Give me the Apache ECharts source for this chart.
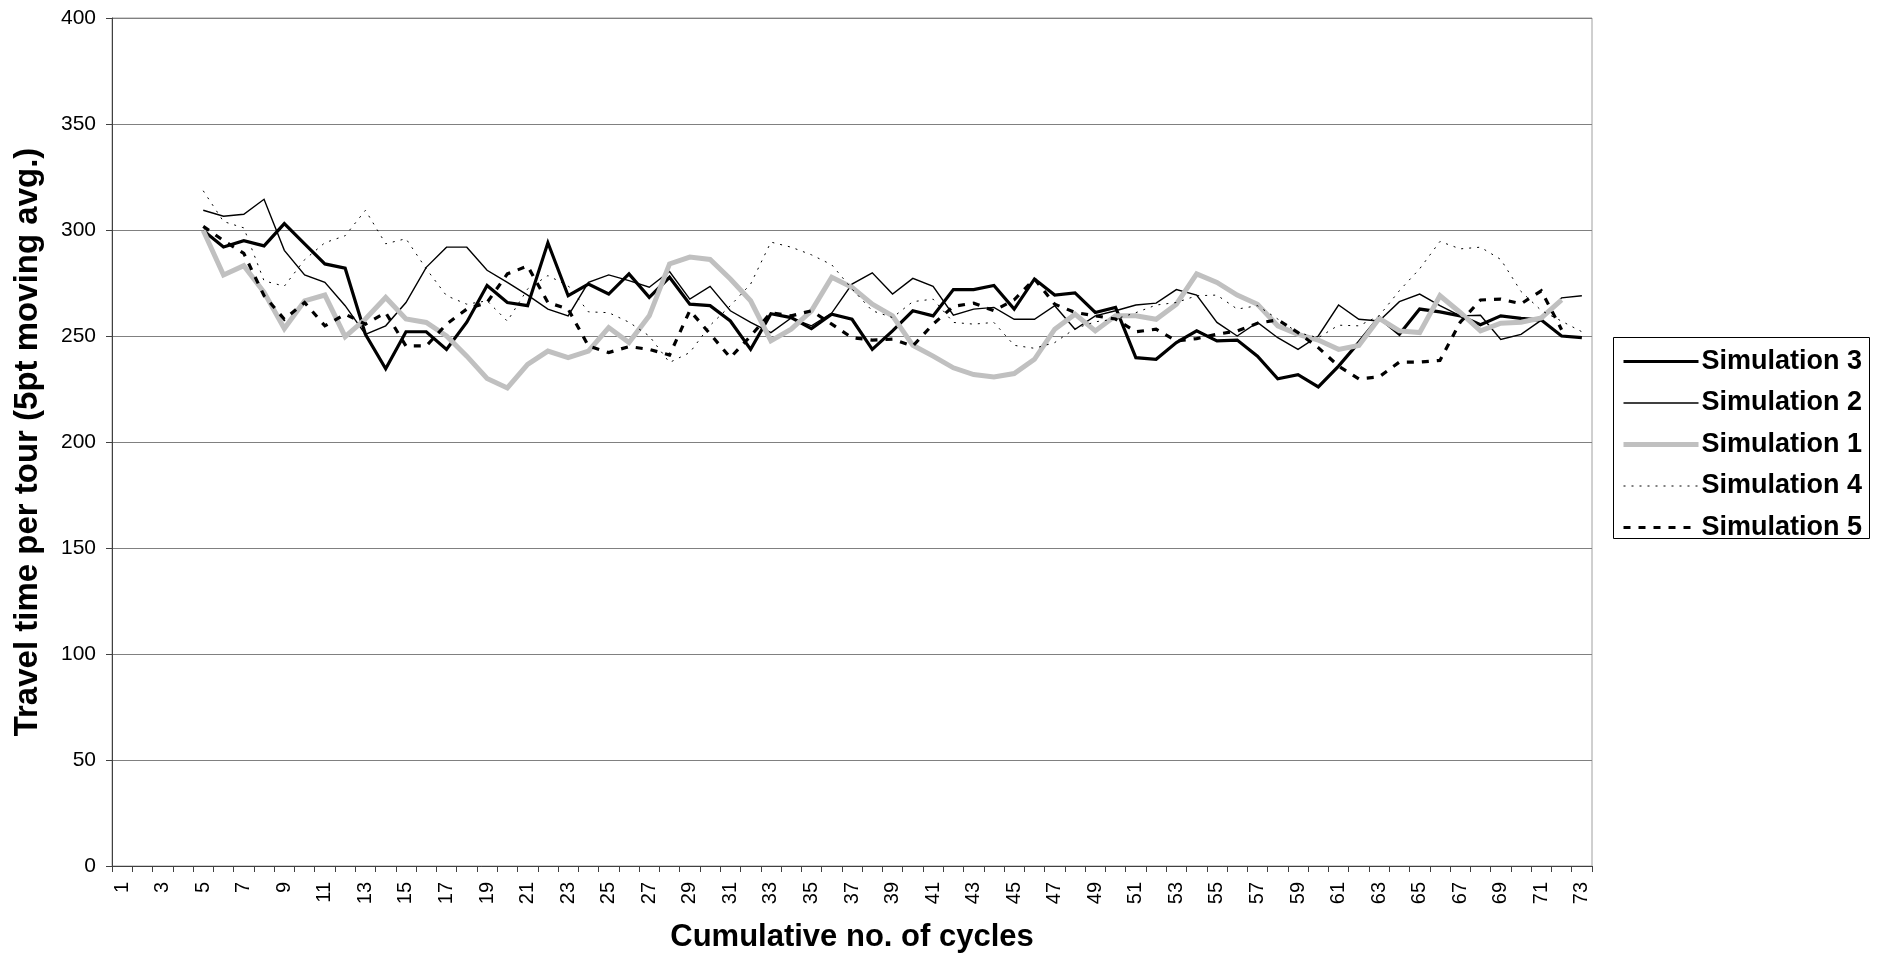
<!DOCTYPE html>
<html>
<head>
<meta charset="utf-8">
<title>Travel time per tour</title>
<script src="https://cdn.jsdelivr.net/npm/echarts@6/dist/echarts.min.js"></script>
<style>
  html, body { margin: 0; padding: 0; background: #ffffff; }
  #chart { width: 1881px; height: 959px; }
</style>
</head>
<body>
<div id="chart"></div>
<script>
// Cycle numbers 1..73 on the category axis
const cycles = [];
for (let c = 1; c <= 73; c++) cycles.push(String(c));

// 5-point moving averages start at cycle 5 (first four cycles are empty)
const sim3 = [null, null, null, null,
  299.8, 292, 295, 292.5, 303, 293.5, 284, 282, 250.8, 234.5,
  252, 252, 243.7, 256.5, 273.8, 265.8, 264.3, 294, 269, 274.5,
  269.8, 279.3, 268.2, 277.7, 265, 264.3, 257.1, 243.7, 260.5, 258.7,
  253.5, 260.3, 257.9, 243.7, 252.4, 261.9, 259.5, 271.9, 271.9, 273.8,
  262.7, 276.9, 269.3, 270.3, 261.1, 263.5, 239.8, 239, 246.9, 252.4,
  247.7, 248.1, 240.5, 229.8, 231.8, 226, 235.8, 247, 258.7, 250.8,
  262.7, 261.4, 259.5, 255.3, 259.5, 258.3, 257.5, 250, 249.2];

const sim2 = [null, null, null, null,
  309.3, 306.5, 307.4, 314.5, 290.4, 278.8, 275.3, 264.3, 250.8, 254.8,
  265.8, 282.4, 291.9, 291.9, 281, 275.3, 269.3, 262.7, 259.5, 275.3,
  278.8, 276.1, 273, 280.4, 267.4, 273.4, 261.9, 256.4, 251.6, 258.5,
  254.8, 260.8, 274.5, 279.8, 269.8, 277.2, 273.4, 259.8, 262.7, 263.5,
  257.9, 257.9, 264.3, 253.2, 259.5, 261.9, 264.6, 265.5, 271.9, 269.3,
  256.4, 250, 256.4, 249.2, 243.7, 250, 264.6, 257.9, 257.1, 266.2,
  269.8, 264.3, 259.5, 259.8, 248.4, 250.8, 257.5, 268, 269];

const sim1 = [null, null, null, null,
  299.8, 278.8, 283.2, 270.6, 253.5, 266.6, 269.3, 249.7, 258, 268.2,
  258, 256.4, 250, 240.5, 230, 225.5, 236.6, 242.9, 239.8, 242.9,
  254, 246.9, 259.5, 284, 287.2, 286.1, 276.9, 266.6, 247.7, 253.2,
  261.9, 277.7, 273, 265, 259.5, 245.6, 240.5, 235, 231.8, 230.7,
  232.3, 239, 253.2, 260.3, 252.4, 259.5, 259.5, 257.9, 265, 279.3,
  275.3, 269.3, 265, 254.8, 250.8, 248.1, 243.7, 245.5, 258.3, 252.4,
  251.6, 269, 261.1, 252.4, 256, 256.5, 258.5, 267, null];

const sim4 = [null, null, null, null,
  318.5, 304, 301, 276, 273.5, 286, 294, 297.3, 309.3, 293.5,
  295.9, 281.7, 269, 265, 266.6, 257, 272.2, 278.5, 273.7, 261.4,
  261, 256.5, 250, 237.5, 242.2, 255, 264.3, 274.5, 294.3, 291.9,
  288.3, 283.6, 272.2, 261.9, 258.7, 266.2, 267.4, 256.4, 255.6, 256.4,
  245.6, 244.2, 246.9, 253.5, 256.7, 258, 261, 264.6, 265.8, 269,
  269.3, 262.7, 264.3, 258, 251.6, 249.2, 255.1, 254.8, 259.5, 271.4,
  281.7, 294.6, 291.1, 291.9, 286.1, 271, 262, 257, 252];

const sim5 = [null, null, null, null,
  301.7, 295, 289, 269, 257.9, 265.8, 254.8, 260.3, 255.6, 261,
  245.3, 245.3, 255.6, 262.7, 265.8, 279.3, 283, 265.8, 262.7, 245.3,
  242.2, 245, 243.7, 241, 262, 251, 239.8, 250, 261, 259.5,
  261.9, 255.6, 249.2, 248.1, 248.5, 245.3, 255.6, 264, 265.5, 261.9,
  267.1, 276.9, 265, 261.1, 259.5, 258, 252, 253.2, 247.7, 248.8,
  250.8, 252.4, 256, 257.6, 251.6, 244.5, 235.8, 229.8, 230.7, 237.7,
  237.7, 238.5, 256.5, 267, 267.4, 265.2, 271.3, 253, null];

const FONT = 'Liberation Sans, Arial, Helvetica, sans-serif';

// Line styles shared by the series and their legend entries
const styles = {
  'Simulation 3': { color: '#000000', width: 3.2, type: 'solid' },
  'Simulation 2': { color: '#000000', width: 1.4, type: 'solid' },
  'Simulation 1': { color: '#c0c0c0', width: 5, type: 'solid' },
  'Simulation 4': { color: '#000000', width: 1, type: [2, 6] },
  'Simulation 5': { color: '#000000', width: 3.2, type: [7, 8] }
};
const legendOrder = ['Simulation 3', 'Simulation 2', 'Simulation 1', 'Simulation 4', 'Simulation 5'];

function lineSeries(name, data, z) {
  const s = styles[name];
  return {
    name: name,
    type: 'line',
    data: data,
    symbol: 'none',
    showSymbol: false,
    connectNulls: false,
    animation: false,
    z: z,
    lineStyle: { color: s.color, width: s.width, type: s.type, cap: 'butt', join: 'miter' },
    itemStyle: { color: s.color }
  };
}

const chart = echarts.init(document.getElementById('chart'), null, { renderer: 'canvas' });

chart.setOption({
  animation: false,
  backgroundColor: '#ffffff',
  grid: {
    left: 112, right: 289, top: 18, bottom: 93,
    show: true, borderColor: '#a0a0a0', borderWidth: 1, backgroundColor: 'transparent'
  },
  // frame around the legend entries
  graphic: [{
    type: 'rect',
    silent: true,
    shape: { x: 1613.5, y: 337.5, width: 256, height: 201 },
    style: { fill: null, stroke: '#000000', lineWidth: 1 }
  }],
  legend: {
    orient: 'vertical',
    left: 1613, top: 337,
    data: legendOrder.map(function (n) {
      const s = styles[n];
      return {
        name: n,
        itemStyle: { opacity: 0 },
        lineStyle: { color: s.color, width: s.width, type: s.type, opacity: 1 }
      };
    }),
    itemWidth: 75, itemHeight: 14, itemGap: 14.5,
    padding: [11, 14, 1, 8],
    borderWidth: 0,
    textStyle: { fontFamily: FONT, fontWeight: 'bold', fontSize: 27, color: '#000000', padding: [0, 0, 0, -2] }
  },
  xAxis: {
    type: 'category',
    data: cycles,
    boundaryGap: true,
    name: 'Cumulative no. of cycles',
    nameLocation: 'middle',
    nameGap: 56,
    nameTextStyle: { fontFamily: FONT, fontWeight: 'bold', fontSize: 31, color: '#000000' },
    axisLine: { show: true, lineStyle: { color: '#404040', width: 1 } },
    axisTick: { show: true, interval: 0, length: 6, lineStyle: { color: '#404040' } },
    axisLabel: { interval: 1, rotate: 90, margin: 16, fontFamily: FONT, fontSize: 20, color: '#000000' },
    splitLine: { show: false }
  },
  yAxis: {
    type: 'value',
    min: 0, max: 400, interval: 50,
    name: 'Travel time per tour (5pt moving avg.)',
    nameLocation: 'middle',
    nameGap: 68,
    nameRotate: 90,
    nameTextStyle: { fontFamily: FONT, fontWeight: 'bold', fontSize: 33, color: '#000000' },
    axisLine: { show: true, lineStyle: { color: '#404040', width: 1 } },
    axisTick: { show: true, length: 6, lineStyle: { color: '#404040' } },
    axisLabel: { margin: 16, fontFamily: FONT, fontSize: 21, color: '#000000' },
    splitLine: { show: true, lineStyle: { color: '#808080', width: 1 } }
  },
  series: [
    lineSeries('Simulation 3', sim3, 2),
    lineSeries('Simulation 2', sim2, 3),
    lineSeries('Simulation 1', sim1, 4),
    lineSeries('Simulation 4', sim4, 5),
    lineSeries('Simulation 5', sim5, 6)
  ]
});
</script>
</body>
</html>
